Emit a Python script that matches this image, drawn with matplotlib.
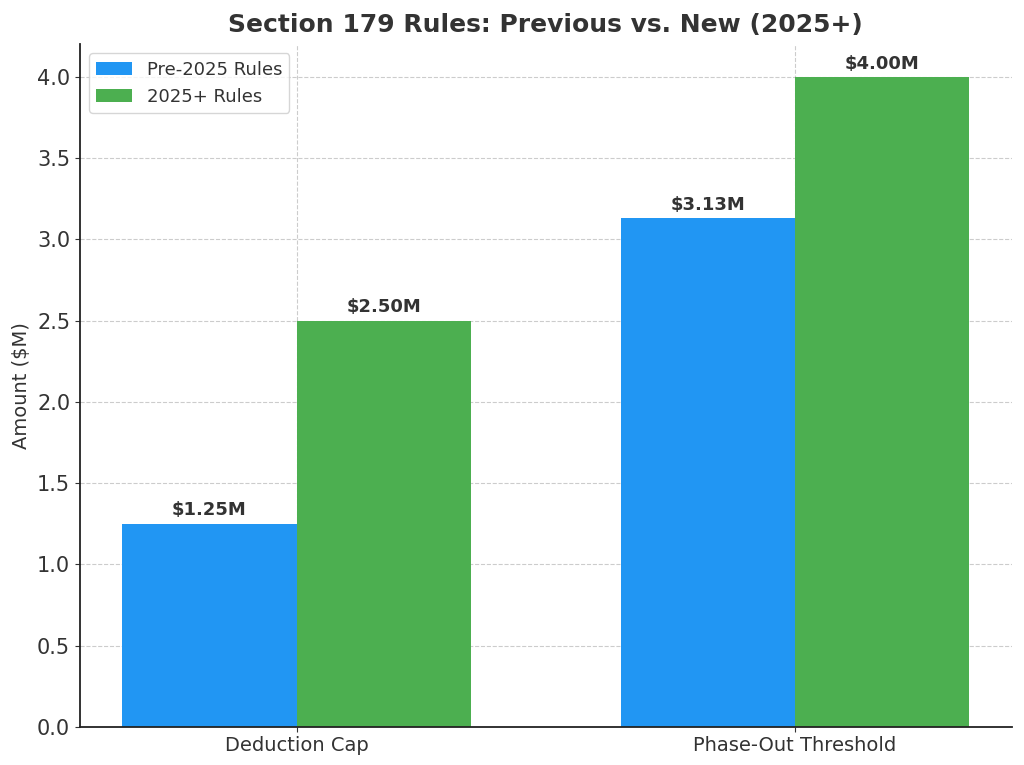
import numpy as np
import matplotlib
matplotlib.use('Agg')
import matplotlib.pyplot as plt

# Chart data
categories = ['Deduction Cap', 'Phase-Out Threshold']
pre_2025 = [1.25, 3.13]
post_2025 = [2.50, 4.00]
series_names = ['Pre-2025 Rules', '2025+ Rules']

text_color = '#333333'
plt.rcParams['font.family'] = ['DejaVu Sans']
plt.rcParams['text.color'] = text_color
plt.rcParams['axes.labelcolor'] = text_color
plt.rcParams['xtick.color'] = text_color
plt.rcParams['ytick.color'] = text_color

fig, ax = plt.subplots(figsize=(10.24, 7.65), dpi=100)

x = np.arange(len(categories))
width = 0.35

bars1 = ax.bar(x - width / 2, pre_2025, width, label=series_names[0], color='#2196F3', zorder=2)
bars2 = ax.bar(x + width / 2, post_2025, width, label=series_names[1], color='#4CAF50', zorder=2)

# Value labels above bars
for bars in (bars1, bars2):
    for b in bars:
        h = b.get_height()
        ax.annotate(f'${h:.2f}M', xy=(b.get_x() + b.get_width() / 2, h),
                    xytext=(0, 3), textcoords='offset points',
                    ha='center', va='bottom', fontsize=13, fontweight='bold',
                    color=text_color)

ax.set_title('Section 179 Rules: Previous vs. New (2025+)', fontsize=18,
             fontweight='bold', color=text_color, pad=9)
ax.set_ylabel('Amount ($M)', fontsize=14)
ax.set_xticks(x)
ax.set_xticklabels(categories, fontsize=14)
ax.tick_params(axis='y', labelsize=15)
ax.set_ylim(0, 4.2)

ax.grid(True, linestyle='--', color='#cccccc', linewidth=0.8, zorder=0)
ax.spines['top'].set_visible(False)
ax.spines['right'].set_visible(False)
ax.spines['left'].set_linewidth(1.3)
ax.spines['bottom'].set_linewidth(1.3)
ax.spines['left'].set_color('#222222')
ax.spines['bottom'].set_color('#222222')

ax.legend(loc='upper left', fontsize=13)

fig.subplots_adjust(left=0.078, right=0.988, top=0.942, bottom=0.05)
fig.savefig('out.png', dpi=100)
